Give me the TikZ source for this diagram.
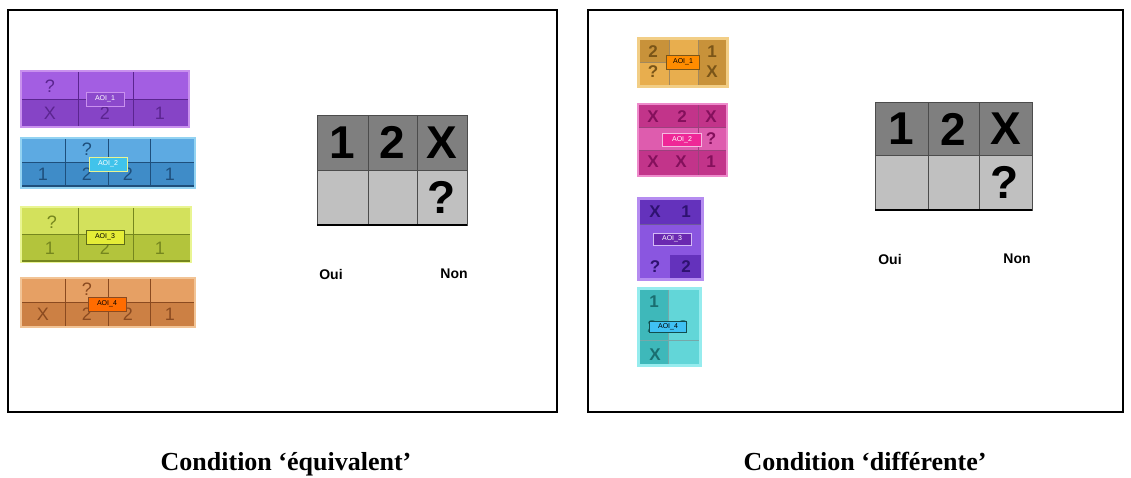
\documentclass[tikz,border=0pt]{standalone}
\usepackage{fontspec}
\setmainfont{Liberation Serif}
\setsansfont{Liberation Sans}
\usetikzlibrary{positioning}

\definecolor{purpTop}{HTML}{A35EE2}
\definecolor{purpBot}{HTML}{8644C6}
\definecolor{purpEdge}{HTML}{C991EE}
\definecolor{purpInk}{HTML}{5B2590}
\definecolor{blueTop}{HTML}{5DAAE2}
\definecolor{blueBot}{HTML}{3F8CC8}
\definecolor{blueEdge}{HTML}{93D3F2}
\definecolor{blueInk}{HTML}{1E4F7C}
\definecolor{limeTop}{HTML}{D3E15C}
\definecolor{limeBot}{HTML}{B3C43C}
\definecolor{limeEdge}{HTML}{E9F592}
\definecolor{limeInk}{HTML}{75861E}
\definecolor{orgTop}{HTML}{E6A064}
\definecolor{orgBot}{HTML}{CC8044}
\definecolor{orgEdge}{HTML}{F2C496}
\definecolor{orgInk}{HTML}{8A4A20}
\definecolor{tanDark}{HTML}{C8923A}
\definecolor{tanLight}{HTML}{E8AE4E}
\definecolor{tanEdge}{HTML}{F2CE86}
\definecolor{tanInk}{HTML}{7A5518}
\definecolor{magDark}{HTML}{C2348A}
\definecolor{magLight}{HTML}{DE5CAE}
\definecolor{magEdge}{HTML}{EE8ACB}
\definecolor{magInk}{HTML}{84105C}
\definecolor{vioDark}{HTML}{6432BC}
\definecolor{vioLight}{HTML}{8A56E0}
\definecolor{vioEdge}{HTML}{B58CF0}
\definecolor{vioInk}{HTML}{2E1270}
\definecolor{cyaDark}{HTML}{3EB8BA}
\definecolor{cyaLight}{HTML}{62D6D8}
\definecolor{cyaEdge}{HTML}{96ECEE}
\definecolor{cyaInk}{HTML}{1A6E70}
\definecolor{tabTop}{HTML}{7F7F7F}
\definecolor{tabBot}{HTML}{C0C0C0}

\begin{document}
\begin{tikzpicture}[x=1pt, y=-1pt,
        frame/.style={draw=black, line width=1.3pt},
        cellline/.style={line width=0.6pt},
        tag/.style={draw, rectangle, inner sep=0pt, minimum width=38pt, minimum height=14pt, font=\fontsize{7}{7}\sffamily},
        glyph/.style={inner sep=0pt, font=\fontsize{18}{18}\sffamily},
        boldglyph/.style={inner sep=0pt, font=\fontsize{17}{17}\sffamily\bfseries},
        digit/.style={inner sep=0pt, font=\fontsize{46}{46}\sffamily\bfseries},
        answer/.style={inner sep=0pt, font=\fontsize{14}{14}\sffamily\bfseries},
        caption/.style={inner sep=0pt, anchor=base, font=\fontsize{26}{26}\selectfont\bfseries}
    ]
    \useasboundingbox[fill=white] (0,0) rectangle (1131,477);

    % frames
    \draw[frame] (8,10) rectangle (557,412);
    \draw[frame] (588,10) rectangle (1123,412);

    % left panel, AOI 1
    \fill[purpTop] (22,72) rectangle (188,99);
    \fill[purpBot] (22,99) rectangle (188,126);
    \draw[purpEdge, line width=2pt] (21,71) rectangle (189,127);
    \draw[purpInk, cellline] (78,72) -- (78,126) (133,72) -- (133,126) (22,99) -- (188,99);
    \node[glyph, purpInk] (la1q) at (50,86) {?};
    \node[glyph, purpInk] (la1x) at (50,113) {X};
    \node[glyph, purpInk] (la1b) at (105,113) {2};
    \node[glyph, purpInk] (la1a) at (160,113) {1};
    \node[tag, draw=purpEdge, fill=purpBot!80!purpTop, text=white] (ltag1) at (105,99) {AOI\_1};

    % left panel, AOI 2
    \fill[blueTop] (22,139) rectangle (194,162);
    \fill[blueBot] (22,162) rectangle (194,186);
    \draw[blueEdge, line width=2pt] (21,138) rectangle (195,188);
    \draw[blueInk, cellline] (65,139) -- (65,186) (108,139) -- (108,186) (150,139) -- (150,186) (22,162) -- (194,162);
    \draw[blueInk, line width=1.2pt] (22,186) -- (194,186);
    \node[glyph, blueInk] (la2q) at (87,149) {?};
    \node[glyph, blueInk] (la2a) at (43,174) {1};
    \node[glyph, blueInk] (la2b) at (87,174) {2};
    \node[glyph, blueInk] (la2c) at (128,174) {2};
    \node[glyph, blueInk] (la2d) at (170,174) {1};
    \node[tag, draw=limeEdge, fill=blueTop!70!cyan, text=white] (ltag2) at (108,164) {AOI\_2};

    % left panel, AOI 3
    \fill[limeTop] (22,208) rectangle (190,234);
    \fill[limeBot] (22,234) rectangle (190,261);
    \draw[limeEdge, line width=2pt] (21,207) rectangle (191,262);
    \draw[limeInk, cellline] (78,208) -- (78,261) (133,208) -- (133,261) (22,234) -- (190,234);
    \draw[limeInk, line width=1.2pt] (22,261) -- (190,261);
    \node[glyph, limeInk] (la3q) at (52,222) {?};
    \node[glyph, limeInk] (la3a) at (50,248) {1};
    \node[glyph, limeInk] (la3b) at (105,248) {2};
    \node[glyph, limeInk] (la3c) at (160,248) {1};
    \node[tag, draw=limeInk!80!black, fill=limeTop!60!yellow, text=black] (ltag3) at (105,237) {AOI\_3};

    % left panel, AOI 4
    \fill[orgTop] (22,279) rectangle (194,302);
    \fill[orgBot] (22,302) rectangle (194,326);
    \draw[orgEdge, line width=2pt] (21,278) rectangle (195,327);
    \draw[orgInk, cellline] (65,279) -- (65,326) (108,279) -- (108,326) (150,279) -- (150,326) (22,302) -- (194,302);
    \node[glyph, orgInk] (la4q) at (87,289) {?};
    \node[glyph, orgInk] (la4x) at (43,314) {X};
    \node[glyph, orgInk] (la4b) at (87,314) {2};
    \node[glyph, orgInk] (la4c) at (128,314) {2};
    \node[glyph, orgInk] (la4a) at (170,314) {1};
    \node[tag, draw=orgInk, fill=orange!85!red, text=black] (ltag4) at (107,304) {AOI\_4};

    % left panel, answer table
    \fill[tabTop] (317,115) rectangle (467,170);
    \fill[tabBot] (317,170) rectangle (467,225);
    \draw[black!70, cellline] (317,115) rectangle (467,225) (368,115) -- (368,225) (417,115) -- (417,225) (317,170) -- (467,170);
    \draw[black, line width=1.3pt] (317,225) -- (467,225);
    \node[digit] (lt1) at (342.5,142.5) {1};
    \node[digit] (lt2) at (392.5,142.5) {2};
    \node[digit] (ltx) at (442,142.5) {X};
    \node[digit] (ltq) at (442,197) {?};
    \node[answer] (loui) at (331,274) {Oui};
    \node[answer] (lnon) at (454,274) {Non};

    % right panel, AOI 1
    \fill[tanDark] (640,40) rectangle (669,62);
    \fill[tanLight] (640,62) rectangle (669,85);
    \fill[tanLight] (669,40) rectangle (698,85);
    \fill[tanDark] (698,40) rectangle (726,85);
    \draw[tanEdge, line width=2.5pt] (638.5,38.5) rectangle (727.5,86.5);
    \draw[tanInk!70, cellline] (669,40) -- (669,85) (698,40) -- (698,85) (640,62) -- (669,62);
    \node[boldglyph, tanInk] (ra1b) at (653,52) {2};
    \node[boldglyph, tanInk] (ra1q) at (653,72) {?};
    \node[boldglyph, tanInk] (ra1a) at (712,52) {1};
    \node[boldglyph, tanInk] (ra1x) at (712,72) {X};
    \node[tag, minimum width=33pt, draw=tanInk, fill=orange!90!yellow, text=black] (rtag1) at (683,62) {AOI\_1};

    % right panel, AOI 2
    \fill[magDark] (639,105) rectangle (726,175);
    \fill[magLight] (639,127) rectangle (726,150);
    \draw[magEdge, line width=2.5pt] (638,104) rectangle (727,176);
    \draw[magInk!80, cellline] (698,105) -- (698,175) (639,127) -- (726,127) (639,150) -- (726,150);
    \node[boldglyph, magInk] (ra2x) at (653,117) {X};
    \node[boldglyph, magInk] (ra2b) at (682,117) {2};
    \node[boldglyph, magInk] (ra2y) at (711,117) {X};
    \node[boldglyph, magInk] (ra2q) at (711,139) {?};
    \node[boldglyph, magInk] (ra2z) at (653,162) {X};
    \node[boldglyph, magInk] (ra2w) at (681,162) {X};
    \node[boldglyph, magInk] (ra2a) at (711,162) {1};
    \node[tag, minimum width=39pt, minimum height=13pt, draw=magEdge!60!white, fill=magenta!80!pink, text=white] (rtag2) at (682,140) {AOI\_2};

    % right panel, AOI 3
    \fill[vioDark] (640,200) rectangle (701,224);
    \fill[vioLight] (640,224) rectangle (701,278);
    \fill[vioDark] (670,255) rectangle (701,278);
    \draw[vioEdge, line width=2.5pt] (638.5,198.5) rectangle (702.5,279.5);
    \draw[vioInk!70, cellline] (640,224) -- (701,224);
    \node[boldglyph, vioInk] (ra3x) at (655,212) {X};
    \node[boldglyph, vioInk] (ra3a) at (686,212) {1};
    \node[boldglyph, vioInk] (ra3q) at (655,267) {?};
    \node[boldglyph, vioInk] (ra3b) at (686,267) {2};
    \node[tag, minimum height=12pt, draw=vioEdge!60!white, fill=vioDark!80!violet, text=white] (rtag3) at (672,239) {AOI\_3};

    % right panel, AOI 4
    \fill[cyaDark] (640,290) rectangle (668,364);
    \fill[cyaLight] (668,290) rectangle (699,364);
    \draw[cyaEdge, line width=2.5pt] (638.5,288.5) rectangle (700.5,365.5);
    \draw[cyaInk!60, cellline] (668,290) -- (668,364) (640,340) -- (699,340);
    \node[boldglyph, cyaInk] (ra4a) at (654,302) {1};
    \node[boldglyph, cyaInk] (ra4x) at (655,355) {X};
    \node[boldglyph, cyaInk] (ra4b) at (652,327) {2};
    \node[boldglyph, cyaInk] (ra4q) at (683,327) {?};
    \node[tag, minimum width=37pt, minimum height=11pt, draw=cyaInk!70!black, fill=cyan!75!white, text=black] (rtag4) at (668,327) {AOI\_4};

    % right panel, answer table
    \fill[tabTop] (875,102) rectangle (1032,155);
    \fill[tabBot] (875,155) rectangle (1032,210);
    \draw[black!70, cellline] (875,102) rectangle (1032,210) (928,102) -- (928,210) (979,102) -- (979,210) (875,155) -- (1032,155);
    \draw[black, line width=1.3pt] (875,210) -- (1032,210);
    \node[digit] (rt1) at (901.5,129) {1};
    \node[digit] (rt2) at (953.5,129) {2};
    \node[digit] (rtx) at (1005.5,129) {X};
    \node[digit] (rtq) at (1005,182) {?};
    \node[answer] (roui) at (890,259) {Oui};
    \node[answer] (rnon) at (1017,259) {Non};

    % captions
    \node[caption] (capl) at (286,470) {Condition ‘équivalent’};
    \node[caption] (capr) at (865,470) {Condition ‘différente’};
\end{tikzpicture}
\end{document}
